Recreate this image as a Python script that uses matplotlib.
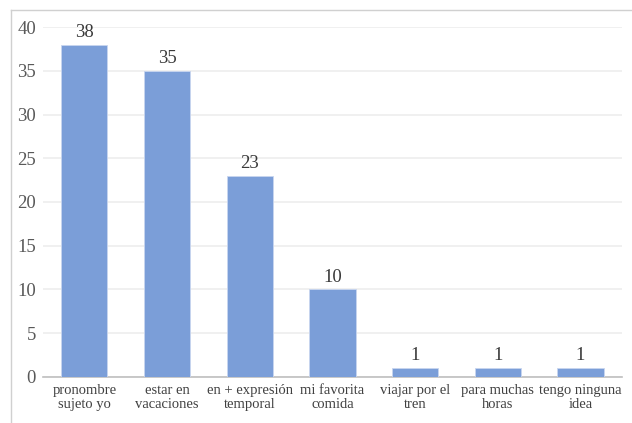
import matplotlib.pyplot as plt
from matplotlib.lines import Line2D

categories = [
    "pronombre\nsujeto yo",
    "estar en\nvacaciones",
    "en + expresión\ntemporal",
    "mi favorita\ncomida",
    "viajar por el\ntren",
    "para muchas\nhoras",
    "tengo ninguna\nidea",
]
counts = [38, 35, 23, 10, 1, 1, 1]
y_ticks = [0, 5, 10, 15, 20, 25, 30, 35, 40]

plt.rcParams["font.family"] = ["Liberation Serif", "DejaVu Serif"]

fig = plt.figure(figsize=(6.32, 4.23), dpi=100)
ax = fig.add_axes([0.068, 0.109, 0.916, 0.827])

x = range(len(categories))
ax.bar(x, counts, width=0.56, color="#7b9ed8", edgecolor="#c9d6ef", linewidth=0.6, zorder=3)
for xi, v in zip(x, counts):
    ax.text(xi, v + 0.45, str(v), ha="center", va="bottom", fontsize=13.5, color="#3a3a3a")

ax.set_xlim(-0.5, len(categories) - 0.5)
ax.set_ylim(0, 40)
ax.set_yticks(y_ticks)
ax.set_xticks(list(x))
ax.set_xticklabels(categories, fontsize=10.5, color="#404040", linespacing=1.15)
ax.tick_params(axis="y", labelsize=13.5, colors="#595959", length=0, pad=5)
ax.tick_params(axis="x", length=0, pad=5)
ax.grid(axis="y", color="#eeeeee", linewidth=1.2, zorder=0)
for side in ["top", "right", "left"]:
    ax.spines[side].set_visible(False)
ax.spines["bottom"].set_color("#bfbfbf")
ax.spines["bottom"].set_linewidth(1.2)

# outer chart frame, cropped at right and bottom
fig.add_artist(Line2D([11 / 632, 11 / 632], [0, 1 - 10 / 423], color="#d0d0d0", linewidth=1.0))
fig.add_artist(Line2D([11 / 632, 1], [1 - 10 / 423, 1 - 10 / 423], color="#d0d0d0", linewidth=1.0))

fig.savefig("out.png", dpi=100)
